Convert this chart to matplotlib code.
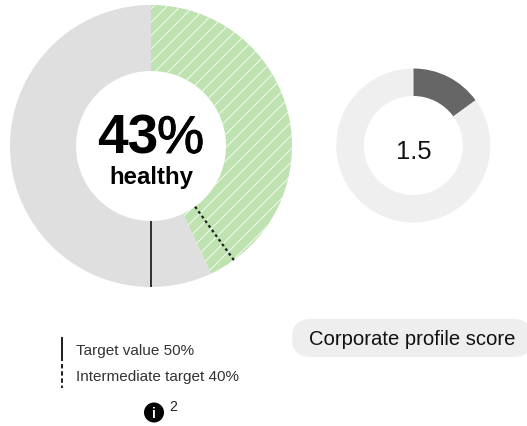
import numpy as np
import matplotlib
matplotlib.use("Agg")
import matplotlib.pyplot as plt
import matplotlib.patheffects as pe
from matplotlib.patches import FancyBboxPatch, Circle

DPI = 80
PX = 72 / DPI  # one pixel expressed in points

plt.rcParams['font.family'] = ['Liberation Sans', 'DejaVu Sans']
plt.rcParams['hatch.linewidth'] = 0.8 * PX

healthy_share = [43, 57]
target_value = 50
intermediate_target = 40
profile_score = [1.5, 8.5]
center_big = "43"
center_big_unit = "%"
center_big_sub = "healthy"
center_small = "1.5"
legend_labels = ["Target value 50%", "Intermediate target 40%"]
pill_label = "Corporate profile score"
note_number = "2"

W, H = 527, 426
fig = plt.figure(figsize=((W + 0.01) / DPI, (H + 0.01) / DPI), dpi=DPI)
ax = fig.add_axes([0, 0, 1, 1])

# Big donut (the y axis is inverted, so the clockwise pie is drawn mirrored)
cx, cy, R, r = 151, 146, 141, 75
wedges, _ = ax.pie(healthy_share, colors=["#BEE3B0", "#DFDFDF"], startangle=-90, counterclock=True,
                   radius=R, center=(cx, cy), frame=False,
                   wedgeprops=dict(width=R - r, linewidth=0))
wedges[0].set_hatch('//')
wedges[0].set_edgecolor('white')
wedges[0].set_linewidth(0)

def radial(share, r0, r1):
    a = np.deg2rad(share * 3.6)
    return ([cx + r0 * np.sin(a), cx + r1 * np.sin(a)],
            [cy - r0 * np.cos(a), cy - r1 * np.cos(a)])

xs, ys = radial(target_value, r, R)
ax.plot(xs, ys, color="#333333", lw=2 * PX, solid_capstyle='butt')
xs, ys = radial(intermediate_target, r, R)
ax.plot(xs, ys, color="#222222", lw=2.3 * PX, dashes=(1.2, 1.3))

ax.text(158, 153, center_big, ha='right', va='baseline', fontsize=55 * PX, fontweight='bold', color='black')
ax.text(157, 153, center_big_unit, ha='left', va='baseline', fontsize=53 * PX, color='black',
        path_effects=[pe.withStroke(linewidth=1.0 * PX, foreground='black')])
ax.text(cx, 184, center_big_sub, ha='center', va='baseline', fontsize=24 * PX, fontweight='bold', color='black')

# Small donut
ax.pie(profile_score, colors=["#666666", "#EFEFEF"], startangle=-90, counterclock=True,
       radius=77, center=(413.3, 145.5), frame=False, wedgeprops=dict(width=27.5, linewidth=0))
ax.text(413.3, 158.5, center_small, ha='center', va='baseline', fontsize=25.5 * PX, color='#111111')

# Pill
ax.add_patch(FancyBboxPatch((292, 319), 240, 38, boxstyle="round,pad=0,rounding_size=19",
                            fc="#EEEEEE", ec='none'))
ax.text(309, 345, pill_label, ha='left', va='baseline', fontsize=20.3 * PX, color='#111111')

# Legend
ax.plot([62, 62], [337, 361], color="#222222", lw=2 * PX, solid_capstyle='butt')
ax.plot([62, 62], [364, 388], color="#222222", lw=2 * PX, dashes=(2.2, 1.4))
ax.text(76, 355, legend_labels[0], ha='left', va='baseline', fontsize=15.2 * PX, color='#333333')
ax.text(76, 381, legend_labels[1], ha='left', va='baseline', fontsize=15.2 * PX, color='#333333')

# Info icon
ax.add_patch(Circle((154, 412.5), 10, fc='black', ec='none'))
ax.text(154, 417.5, "i", ha='center', va='baseline', fontsize=14 * PX, fontweight='bold', color='white')
ax.text(169.5, 410.5, note_number, ha='left', va='baseline', fontsize=14 * PX, color='#222222')

ax.set_xlim(0, W)
ax.set_ylim(H, 0)
ax.set_aspect('equal')
ax.axis('off')

fig.savefig("out.png", dpi=DPI)
